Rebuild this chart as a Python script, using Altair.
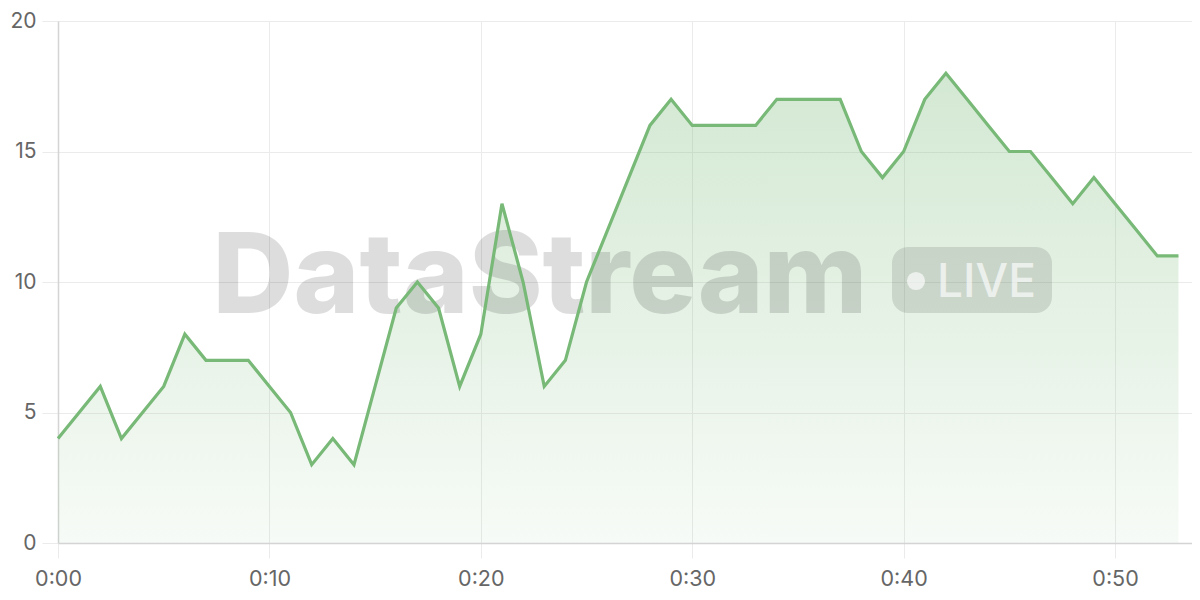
import altair as alt
import pandas as pd

minutes = list(range(54))
values = [4, 5, 6, 4, 5, 6, 8, 7, 7, 7,
          6, 5, 3, 4, 3, 6, 9, 10, 9, 6,
          8, 13, 10, 6, 7, 10, 12, 14, 16, 17,
          16, 16, 16, 16, 17, 17, 17, 17, 15, 14,
          15, 17, 18, 17, 16, 15, 15, 14, 13, 14,
          13, 12, 11, 11]
y_ticks = [0, 5, 10, 15, 20]
x_ticks = [0, 10, 20, 30, 40, 50]
brand = "DataStream"
badge = "LIVE"

df = pd.DataFrame({"t": minutes, "v": values})

GREEN = "#78b978"
FONT = "Inter"

x_enc = alt.X("t:Q", scale=alt.Scale(domain=[0, 53.64], nice=False, zero=False),
              axis=alt.Axis(values=x_ticks, title=None, grid=True, gridColor="#ebebeb",
                            domainColor="#d4d4d4", domainWidth=1.5, tickColor="#ebebeb", tickSize=15,
                            labelFont=FONT, labelFontSize=21.5, labelColor="#666666",
                            labelPadding=10, labelFlush=False,
                            labelExpr="floor(datum.value/60) + ':' + (datum.value % 60 < 10 ? '0' : '') + (datum.value % 60)"))
y_enc = alt.Y("v:Q", scale=alt.Scale(domain=[0, 20], nice=False),
              axis=alt.Axis(values=y_ticks, title=None, grid=True, gridColor="#ebebeb",
                            domainColor="#d4d4d4", domainWidth=1.5, tickColor="#ebebeb", tickSize=16,
                            labelFont=FONT, labelFontSize=21, labelColor="#666666",
                            labelPadding=6, labelFlush=False))

base = alt.Chart(df)

area = base.mark_area(
    line=False,
    color=alt.Gradient(
        gradient="linear",
        stops=[alt.GradientStop(color="rgba(118,184,118,0.32)", offset=0),
               alt.GradientStop(color="rgba(118,184,118,0.06)", offset=1)],
        x1=0, x2=0, y1=0, y2=1,
    ),
).encode(x=x_enc, y=y_enc)

wm = alt.Chart(pd.DataFrame({"s": [brand]})).mark_text(
    font=FONT, fontSize=112, fontWeight=800, color="#000000", opacity=0.13,
    align="center", baseline="alphabetic",
).encode(text="s:N", x=alt.value(482), y=alt.value(292))

badge_rect = alt.Chart(pd.DataFrame({"s": [badge]})).mark_rect(
    color="#000000", opacity=0.11, cornerRadius=16,
).encode(x=alt.value(834), x2=alt.value(994), y=alt.value(226), y2=alt.value(292))

badge_dot = alt.Chart(pd.DataFrame({"s": [badge]})).mark_circle(
    color="#ffffff", opacity=0.65, size=330,
).encode(x=alt.value(858), y=alt.value(260))

badge_text = alt.Chart(pd.DataFrame({"s": [badge]})).mark_text(
    font=FONT, fontSize=46, fontWeight=500, color="#ffffff", opacity=0.65,
    align="left", baseline="alphabetic",
).encode(text="s:N", x=alt.value(879), y=alt.value(276))

line = base.mark_line(color=GREEN, strokeWidth=3.2).encode(x=x_enc, y=y_enc)

chart = alt.layer(area, wm, badge_rect, badge_dot, badge_text, line).properties(
    width=1134, height=522,
    autosize=alt.AutoSizeParams(type="none"),
    padding={"left": 50, "top": 13, "right": 0, "bottom": 50},
).configure_view(stroke=None)

chart.save("out.html", embed_options={"renderer": "svg", "actions": False})
